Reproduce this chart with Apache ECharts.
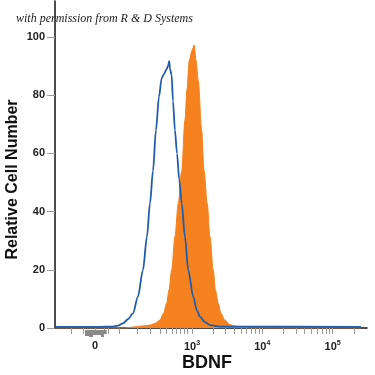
<!DOCTYPE html>
<html>
<head>
<meta charset="utf-8">
<script src="https://cdn.jsdelivr.net/npm/echarts@6/dist/echarts.min.js"></script>
<style>html,body{margin:0;padding:0;background:#fff}#c{width:375px;height:375px}</style>
</head>
<body>
<div id="c"></div>
<script>
// x positions are on the transformed (biexponential display) scale, in decades: 10^3 -> 3, 10^4 -> 4 ...
var blueX = [1.053,1.692,1.877,1.948,2.019,2.090,2.161,2.232,2.303,2.360,2.403,2.446,2.488,2.531,2.569,2.595,2.640,2.659,2.677,2.687,2.711,2.730,2.758,2.787,2.819,2.854,2.900,2.947,3.018,3.071,3.114,3.185,3.256,3.398,5.402];
var blueY = [0.4,0.4,0.5,0.8,1.6,3,5,10.8,19.9,31.4,42.8,54,68,79.5,85.8,87,89,90,91.7,89,87,78,68,60,51,42.8,31.4,19.9,10.8,6,3.9,2,1.0,0.5,0.4];
var orangeX = [1.053,2.048,2.190,2.332,2.403,2.474,2.545,2.595,2.640,2.673,2.711,2.758,2.805,2.854,2.900,2.929,2.962,3.000,3.033,3.057,3.090,3.138,3.171,3.217,3.256,3.303,3.334,3.374,3.412,3.469,3.540,3.587,3.682,3.824,5.402];
var orangeY = [0,0,0.4,0.8,1.0,1.6,2.7,5,8.5,13,19.9,31.4,42.8,54,71.5,82,92,95.5,97.3,92,85,68,54.3,42.8,31.4,19.9,13,8.5,5,2.7,1.2,0.8,0.3,0,0];
// gray events piled at the low end (below axis), bins [start, end, relative size]
var grayBins = [[1.479,1.536,6],[1.536,1.593,7],[1.593,1.650,5],[1.650,1.707,5],[1.707,1.750,7],[1.750,1.788,4]];
var xLabelValues = [1.621, 3, 4, 5];
var xLabelTexts = ['0', '10{s|3}', '10{s|4}', '10{s|5}'];
var xTickValues = [1.290,1.455,1.621,1.753,1.810,1.967,2.228,2.403,2.555,2.640,2.720,2.783,2.839,2.886,2.933,
  3,3.301,3.477,3.602,3.699,3.778,3.845,3.903,3.954,
  4,4.301,4.477,4.602,4.699,4.778,4.845,4.903,4.954,5,5.301];
var yTickValues = [0,20,40,60,80,100];

function zip(a,b){return a.map(function(v,i){return [v,b[i]];});}

var chart = echarts.init(document.getElementById('c'));
chart.setOption({
  animation:false,
  title:{text:'with permission from R & D Systems', left:11, top:8,
    textStyle:{fontFamily:'Liberation Serif', fontStyle:'italic', fontWeight:'normal', fontSize:12, color:'#222'}},
  grid:{left:55, right:8, top:1, bottom:47, outerBoundsMode:'none', containLabel:false},
  xAxis:{type:'value', min:1.053, max:5.488,
    name:'BDNF', nameLocation:'middle', nameGap:26, nameMoveOverlap:false,
    nameTextStyle:{fontFamily:'Liberation Sans', fontWeight:'bold', fontSize:18, color:'#111', padding:[0,8,0,0]},
    axisLine:{onZero:false, lineStyle:{color:'#111', width:1.5}},
    axisTick:{show:true, length:6, lineStyle:{color:'#999', width:1}, customValues:xTickValues},
    axisLabel:{customValues:xLabelValues, margin:12,
      formatter:function(v){var i=xLabelValues.indexOf(v);return i>=0?xLabelTexts[i]:'';},
      fontFamily:'Liberation Sans', fontWeight:'bold', fontSize:11, color:'#222',
      rich:{s:{fontFamily:'Liberation Sans', fontWeight:'bold', fontSize:7, verticalAlign:'top', padding:[0,0,6,0], color:'#222'}}},
    splitLine:{show:false}},
  yAxis:{type:'value', min:0, max:112.4,
    name:'Relative Cell Number', nameLocation:'middle', nameGap:34, nameMoveOverlap:false,
    nameTextStyle:{fontFamily:'Liberation Sans', fontWeight:'bold', fontSize:16, color:'#111', padding:[0,30,0,0]},
    axisLine:{show:true, lineStyle:{color:'#111', width:1.5}},
    axisTick:{show:true, length:8, lineStyle:{color:'#999', width:1}, customValues:yTickValues},
    axisLabel:{customValues:yTickValues, margin:10, fontFamily:'Liberation Sans', fontWeight:'bold', fontSize:11, color:'#222'},
    splitLine:{show:false}},
  series:[
    {type:'custom', clip:false, silent:true, z:1,
      data:grayBins,
      renderItem:function(params, api){
        var a = api.coord([api.value(0), 0]);
        var b = api.coord([api.value(1), 0]);
        var h = api.value(2);
        return {type:'rect', shape:{x:a[0], y:a[1]+2, width:b[0]-a[0], height:h},
          style:{fill:'#8a8a8a'}};
      }},
    {type:'line', data:zip(orangeX, orangeY), showSymbol:false, smooth:0.3, smoothMonotone:'x',
      lineStyle:{color:'#f5821f', width:1}, itemStyle:{color:'#f5821f'},
      areaStyle:{color:'#f5821f', opacity:1}, z:2},
    {type:'line', data:zip(blueX, blueY), showSymbol:false, smooth:0.3, smoothMonotone:'x',
      lineStyle:{color:'#1f5cab', width:1.8}, itemStyle:{color:'#1f5cab'}, z:3}
  ]
});
</script>
</body>
</html>
